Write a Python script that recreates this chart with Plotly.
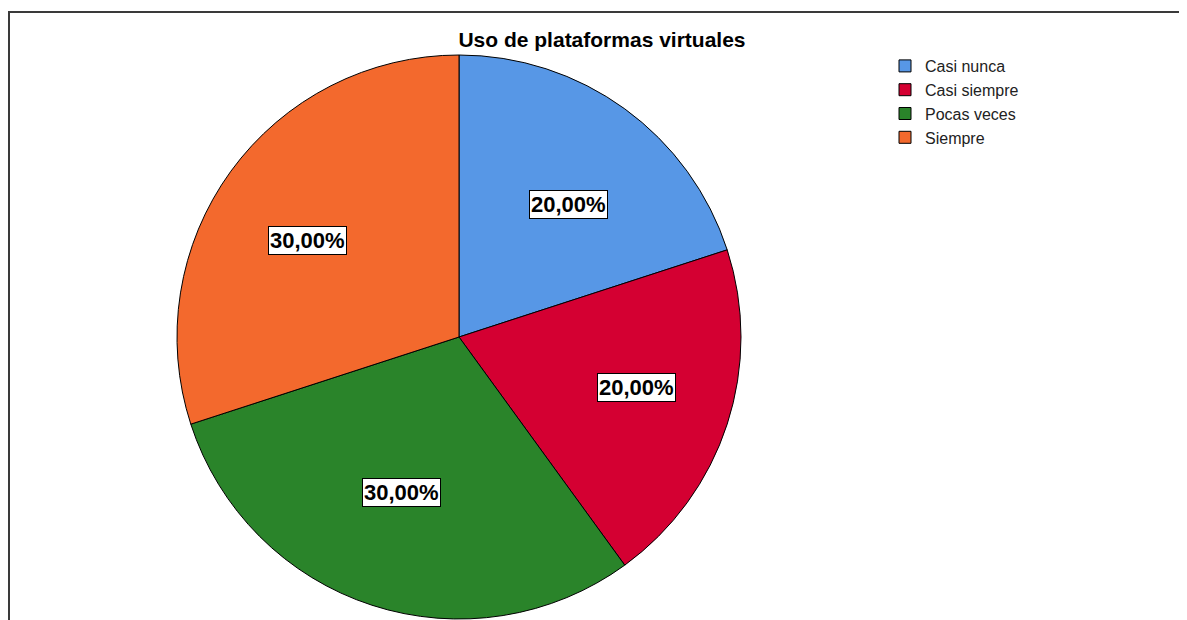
import math
import plotly.graph_objects as go

# data
categorias = ["Casi nunca", "Casi siempre", "Pocas veces", "Siempre"]
porcentajes = [20.0, 20.0, 30.0, 30.0]
colores = ["#5797E6", "#D40032", "#2A842A", "#F3692D"]

# page body has an 8px margin, so the figure is a bit smaller than the window
W, H = 1179, 612
# pie placement (figure pixels)
cx_px, cy_px, r_px = 451, 329, 282
# label placement radii (the original chart is slightly oval)
rx_lab, ry_lab = 322 * 0.58, 282 * 0.58

fig = go.Figure()

fig.add_trace(
    go.Pie(
        labels=categorias,
        values=porcentajes,
        sort=False,
        direction="clockwise",
        rotation=0,
        textinfo="none",
        hoverinfo="label+percent",
        marker=dict(colors=colores, line=dict(color="black", width=1)),
        domain=dict(
            x=[(cx_px - r_px) / W, (cx_px + r_px) / W],
            y=[(H - cy_px - r_px) / H, (H - cy_px + r_px) / H],
        ),
    )
)

# percentage labels in white boxes, at the middle angle of each slice
total = sum(porcentajes)
acum = 0
for v in porcentajes:
    mid = (acum + v / 2) / total * 2 * math.pi
    acum += v
    lx = cx_px + rx_lab * math.sin(mid)
    ly = cy_px - ry_lab * math.cos(mid)
    fig.add_annotation(
        x=lx / W,
        y=1 - ly / H,
        xref="paper",
        yref="paper",
        xanchor="center",
        yanchor="middle",
        text="<b>" + f"{v / total * 100:.2f}".replace(".", ",") + "%</b>",
        showarrow=False,
        font=dict(family="Liberation Sans, Arial", size=22, color="black"),
        bgcolor="white",
        bordercolor="black",
        borderwidth=1,
        borderpad=1,
    )

# outer frame (top and left edges visible)
fig.add_shape(
    type="rect",
    xref="paper",
    yref="paper",
    x0=1 / W,
    y0=1 - 4 / H,
    x1=1.01,
    y1=-0.01,
    line=dict(color="#3a3a3a", width=2),
)

fig.update_layout(
    title=dict(
        text="<b>Uso de plataformas virtuales</b>",
        x=594 / W,
        xanchor="center",
        y=1 - 32 / H,
        yanchor="middle",
        font=dict(family="Liberation Sans, Arial", size=21, color="black"),
    ),
    legend=dict(
        x=877 / W,
        y=1 - 41 / H,
        xanchor="left",
        yanchor="top",
        font=dict(family="Liberation Sans, Arial", size=16, color="#222222"),
        bgcolor="rgba(255,255,255,0)",
        itemwidth=30,
    ),
    showlegend=True,
    margin=dict(l=0, r=0, t=0, b=0),
    paper_bgcolor="white",
    plot_bgcolor="white",
    width=W,
    height=H,
)

fig.write_html("out.html")
